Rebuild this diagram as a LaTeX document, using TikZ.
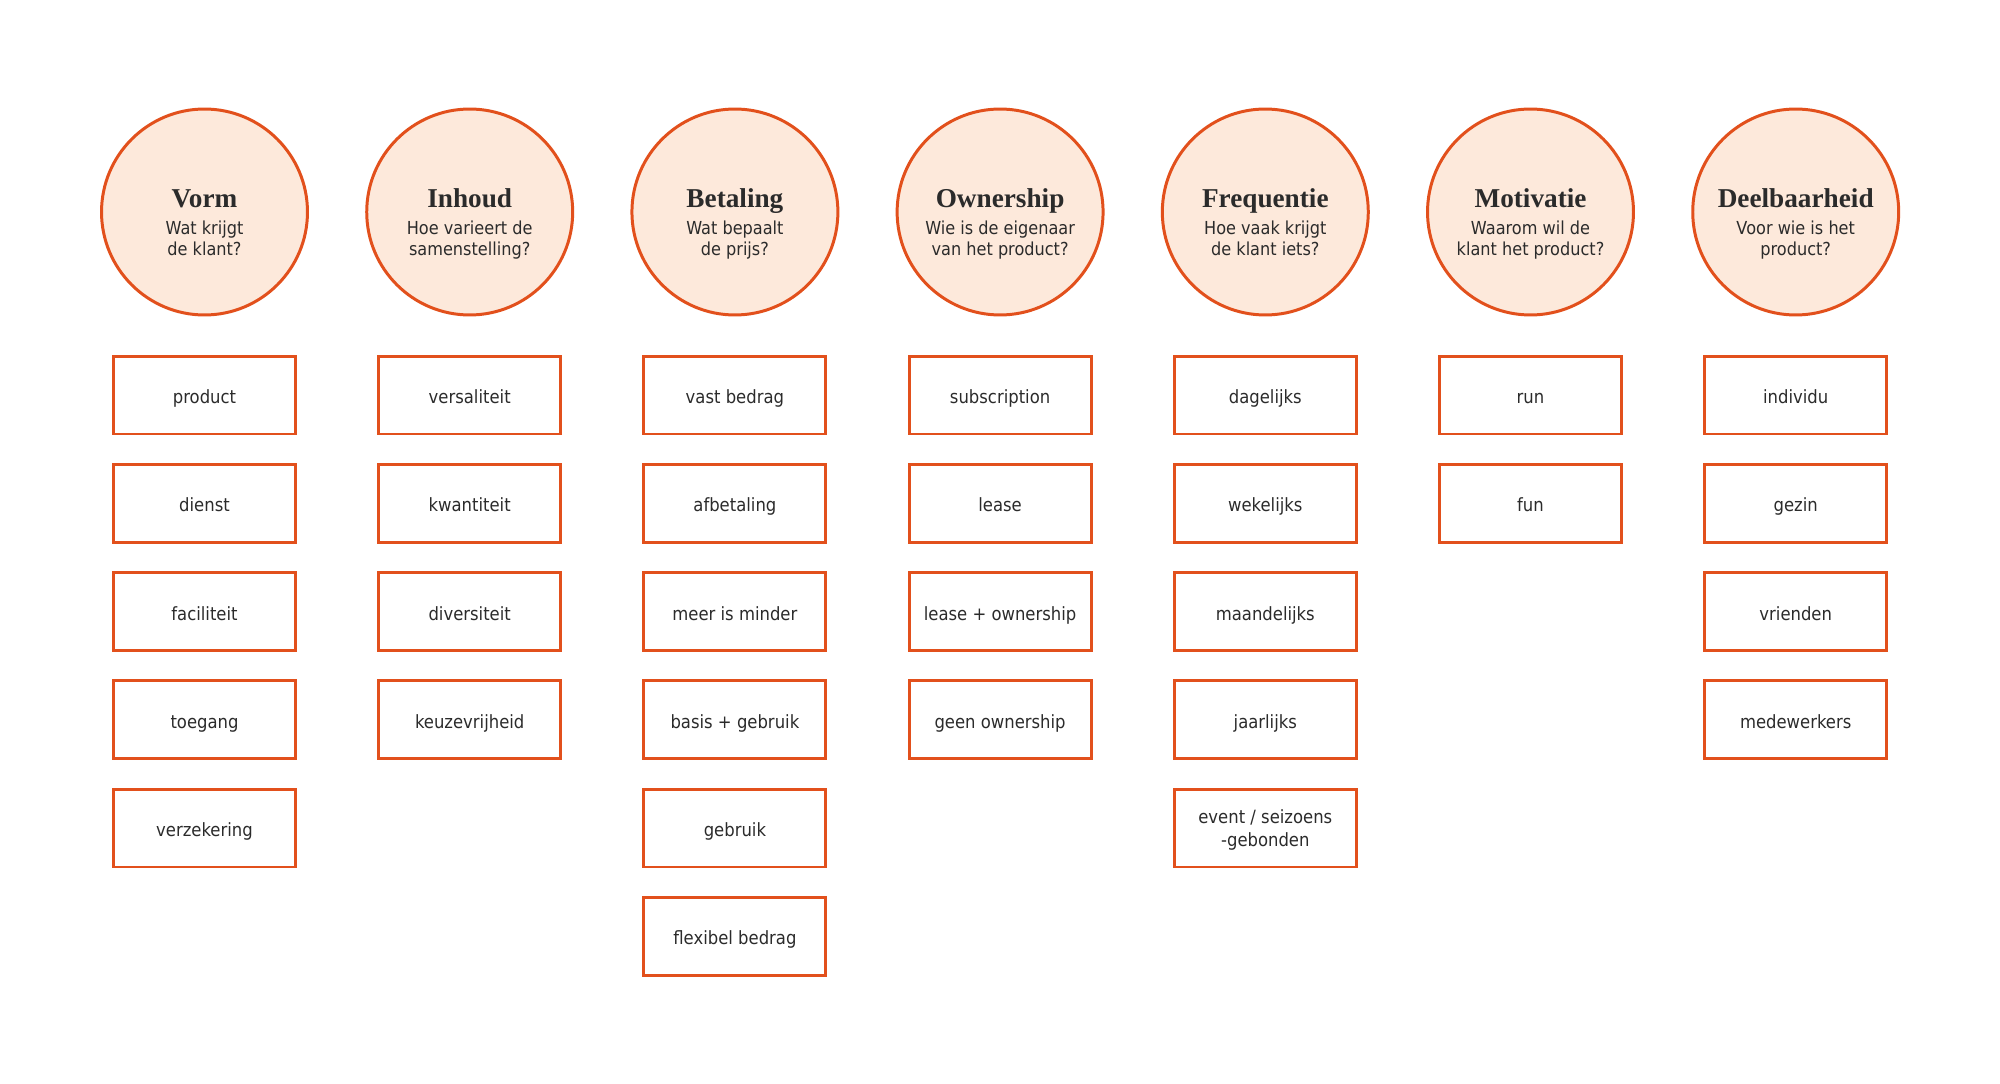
\documentclass[tikz,border=0pt]{standalone}
\usepackage{fontspec}
\setmainfont{DejaVu Sans}[FakeStretch=0.9]
\newfontfamily\kopfont{Liberation Serif}
\definecolor{oranje}{HTML}{E2501C}
\definecolor{perzik}{HTML}{FDE9DB}
\definecolor{inkt}{HTML}{2B2B2B}
\newcommand{\kop}[1]{{\kopfont\bfseries\fontsize{15.5}{15.5}\selectfont #1}}
\newcommand{\vraag}[3]{\begin{tabular}[t]{@{}c@{}}\kop{#1}\\[4pt]#2\\#3\end{tabular}}
\tikzset{
  bol/.style={circle, draw=oranje, fill=perzik, line width=1.7pt, minimum size=4.12cm,
    inner sep=0pt, text=inkt, text height=0cm, text depth=0.19cm,
    font=\fontsize{10.2}{11.7}\selectfont},
  vak/.style={rectangle, draw=oranje, line width=1.7pt, minimum width=3.64cm,
    minimum height=1.56cm, inner sep=0pt, text=inkt, text height=0.344cm,
    text depth=0cm, font=\fontsize{10.4}{13.1}\selectfont},
  vak2/.style={vak, text height=0cm, text depth=0.2cm}
}
\begin{document}
\begin{tikzpicture}[x=0.02cm, y=-0.02cm]
\useasboundingbox (0,0) rectangle (2000,1084);
% kolomkoppen
\node[bol] (vorm) at (204.5,212) {\vraag{Vorm}{Wat krijgt}{de klant?}};
\node[bol] (inhoud) at (469.7,212) {\vraag{Inhoud}{Hoe varieert de}{samenstelling?}};
\node[bol] (betaling) at (734.9,212) {\vraag{Betaling}{Wat bepaalt}{de prijs?}};
\node[bol] (ownership) at (1000.1,212) {\vraag{Ownership}{Wie is de eigenaar}{van het product?}};
\node[bol] (frequentie) at (1265.3,212) {\vraag{Frequentie}{Hoe vaak krijgt}{de klant iets?}};
\node[bol] (motivatie) at (1530.5,212) {\vraag{Motivatie}{Waarom wil de}{klant het product?}};
\node[bol] (deelbaarheid) at (1795.7,212) {\vraag{Deelbaarheid}{Voor wie is het}{product?}};
% vorm
\node[vak] (product) at (204.5,395) {product};
\node[vak] (dienst) at (204.5,503.3) {dienst};
\node[vak] (faciliteit) at (204.5,611.5) {faciliteit};
\node[vak] (toegang) at (204.5,719.8) {toegang};
\node[vak] (verzekering) at (204.5,828) {verzekering};
% inhoud
\node[vak] (versaliteit) at (469.7,395) {versaliteit};
\node[vak] (kwantiteit) at (469.7,503.3) {kwantiteit};
\node[vak] (diversiteit) at (469.7,611.5) {diversiteit};
\node[vak] (keuzevrijheid) at (469.7,719.8) {keuzevrijheid};
% betaling
\node[vak] (vastbedrag) at (734.9,395) {vast bedrag};
\node[vak] (afbetaling) at (734.9,503.3) {afbetaling};
\node[vak] (meerminder) at (734.9,611.5) {meer is minder};
\node[vak] (basisgebruik) at (734.9,719.8) {basis + gebruik};
\node[vak] (gebruik) at (734.9,828) {gebruik};
\node[vak] (flexbedrag) at (734.9,936.3) {flexibel bedrag};
% ownership
\node[vak] (subscription) at (1000.1,395) {subscription};
\node[vak] (lease) at (1000.1,503.3) {lease};
\node[vak] (leaseown) at (1000.1,611.5) {lease + ownership};
\node[vak] (geenown) at (1000.1,719.8) {geen ownership};
% frequentie
\node[vak] (dagelijks) at (1265.3,395) {dagelijks};
\node[vak] (wekelijks) at (1265.3,503.3) {wekelijks};
\node[vak] (maandelijks) at (1265.3,611.5) {maandelijks};
\node[vak] (jaarlijks) at (1265.3,719.8) {jaarlijks};
\node[vak2] (event) at (1265.3,828) {\begin{tabular}[t]{@{}c@{}}event / seizoens\\-gebonden\end{tabular}};
% motivatie
\node[vak] (run) at (1530.5,395) {run};
\node[vak] (fun) at (1530.5,503.3) {fun};
% deelbaarheid
\node[vak] (individu) at (1795.7,395) {individu};
\node[vak] (gezin) at (1795.7,503.3) {gezin};
\node[vak] (vrienden) at (1795.7,611.5) {vrienden};
\node[vak] (medewerkers) at (1795.7,719.8) {medewerkers};
\end{tikzpicture}
\end{document}
